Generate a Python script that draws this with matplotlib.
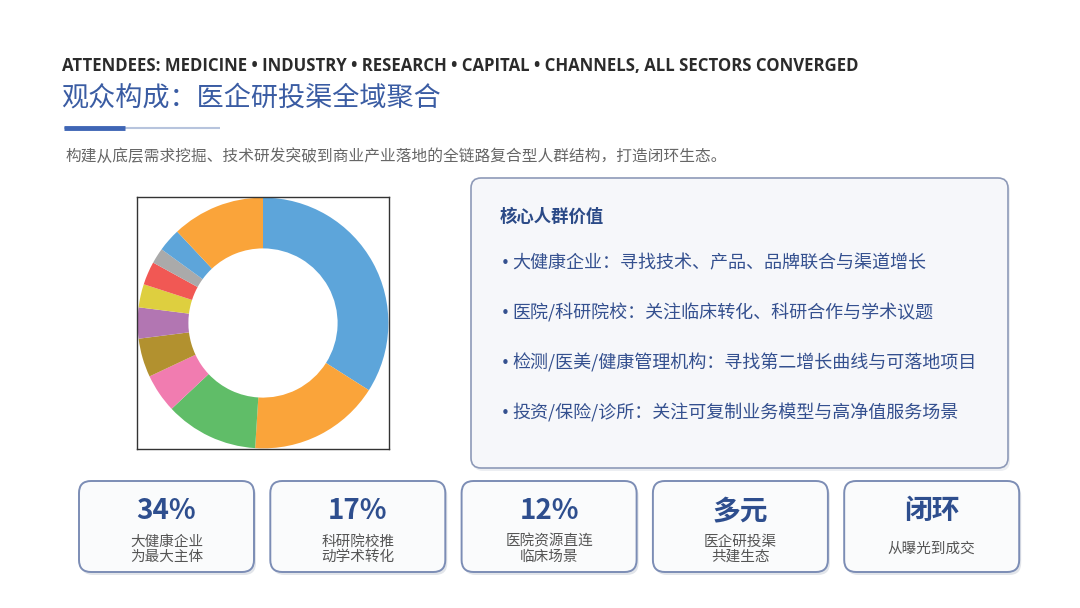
import matplotlib.pyplot as plt
from matplotlib.patches import FancyBboxPatch

plt.rcParams['font.family'] = ['Noto Sans CJK SC', 'DejaVu Sans']

# donut data (share of attendees, %)
shares = [34, 17, 12, 5, 5, 4, 3, 3, 2, 3, 12]
colors = ['#5DA5DA', '#FAA43A', '#60BD68', '#F17CB0', '#B2912F', '#B276B2',
          '#DECF3F', '#F15854', '#AAAAAA', '#5DA5DA', '#FAA43A']

heading_en = 'ATTENDEES: MEDICINE \u2022 INDUSTRY \u2022 RESEARCH \u2022 CAPITAL \u2022 CHANNELS, ALL SECTORS CONVERGED'
title_cn = '观众构成：医企研投渠全域聚合'
subtitle = '构建从底层需求挖掘、技术研发突破到商业产业落地的全链路复合型人群结构，打造闭环生态。'

panel_title = '核心人群价值'
bullets = ['大健康企业：寻找技术、产品、品牌联合与渠道增长',
           '医院/科研院校：关注临床转化、科研合作与学术议题',
           '检测/医美/健康管理机构：寻找第二增长曲线与可落地项目',
           '投资/保险/诊所：关注可复制业务模型与高净值服务场景']

card_big = ['34%', '17%', '12%', '多元', '闭环']
card_small = ['大健康企业\n为最大主体', '科研院校推\n动学术转化', '医院资源直连\n临床场景',
              '医企研投渠\n共建生态', '从曝光到成交']

fig = plt.figure(figsize=(10.8, 6.08), dpi=100)
fig.patch.set_facecolor('white')

# layout canvas in pixel units
bg = fig.add_axes([0, 0, 1, 1])
bg.set_xlim(0, 1080)
bg.set_ylim(608, 0)
bg.axis('off')

bg.text(62, 66, heading_en, fontsize=12.1, fontweight='bold', color='#2b2b2b',
        family=['Open Sans', 'DejaVu Sans'], va='center', ha='left')
bg.text(61, 98, title_cn, fontsize=19.5, color='#3A5CA3', va='center', ha='left')
bg.plot([64, 220], [128, 128], color='#b7c4dd', lw=1.5, solid_capstyle='butt')
bg.plot([64, 125], [128, 128], color='#3F66B5', lw=3.5, solid_capstyle='butt')
bg.text(66, 156, subtitle, fontsize=11.3, color='#666666', va='center', ha='left')

# right panel
bg.add_patch(FancyBboxPatch((473, 181), 537, 290, boxstyle='round,pad=0,rounding_size=10',
                            fc='#eceef2', ec='none', zorder=1))
bg.add_patch(FancyBboxPatch((471, 178), 537, 290, boxstyle='round,pad=0,rounding_size=10',
                            fc='#f6f7fa', ec='#8e9ab8', lw=1.2, zorder=2))
bg.text(500, 217, panel_title, fontsize=12.5, fontweight='bold', color='#2B4A87',
        va='center', ha='left', zorder=3)
for i, b in enumerate(bullets):
    y = 263 + 50 * i
    bg.text(501, y, '\u2022', fontsize=11, color='#34508f', va='center', ha='left',
            family=['DejaVu Sans'], zorder=3)
    bg.text(512, y, b, fontsize=13, color='#34508f', va='center', ha='left', zorder=3)

# bottom cards
for i, (big, small) in enumerate(zip(card_big, card_small)):
    x0 = 79 + 191.3 * i
    bg.add_patch(FancyBboxPatch((x0 + 2, 484), 175, 91, boxstyle='round,pad=0,rounding_size=12',
                                fc='#e2e5ea', ec='none', zorder=1))
    bg.add_patch(FancyBboxPatch((x0, 481), 175, 91, boxstyle='round,pad=0,rounding_size=12',
                                fc='#fafbfc', ec='#7c8db5', lw=1.4, zorder=2))
    bg.text(x0 + 87.5, 511, big, fontsize=20, fontweight='bold', color='#2E4E8E',
            va='center', ha='center', zorder=3)
    bg.text(x0 + 87.5, 549, small, fontsize=10.5, color='#555555', va='center',
            ha='center', linespacing=1.1, zorder=3)

# donut chart
ax = fig.add_axes([137 / 1080, 1 - 449 / 608, 252 / 1080, 252 / 608])
ax.pie(shares, colors=colors, startangle=90, counterclock=False,
       wedgeprops=dict(width=0.405, linewidth=0))
ax.set_frame_on(True)
ax.set_axis_on()
ax.set_xlim(-1.005, 1.005)
ax.set_ylim(-1.005, 1.005)
ax.set_xticks([])
ax.set_yticks([])
for s in ax.spines.values():
    s.set_visible(True)
    s.set_color('#333333')
    s.set_linewidth(1.0)

fig.savefig('out.png', dpi=100, facecolor='white')
